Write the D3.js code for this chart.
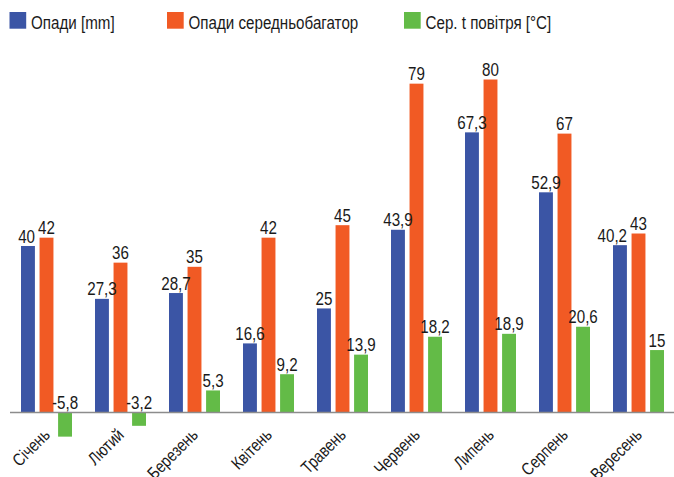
<!DOCTYPE html>
<html>
<head>
<meta charset="utf-8">
<script src="https://cdn.jsdelivr.net/npm/d3@7"></script>
<style>
  html, body { margin: 0; padding: 0; background: #fff; }
  svg { display: block; font-family: "Liberation Sans", Arial, sans-serif; }
</style>
</head>
<body>
<svg id="chart" width="674" height="477"></svg>
<script>
// Monthly precipitation and mean air temperature
const months = ["Січень", "Лютий", "Березень", "Квітень", "Травень", "Червень", "Липень", "Серпень", "Вересень"];
const seriesNames = ["Опади [mm]", "Опади середньобагатор", "Сер. t повітря [°C]"];
const precip = [40, 27.3, 28.7, 16.6, 25, 43.9, 67.3, 52.9, 40.2];
const precipNorm = [42, 36, 35, 42, 45, 79, 80, 67, 43];
const airTemp = [-5.8, -3.2, 5.3, 9.2, 13.9, 18.2, 18.9, 20.6, 15];
const colors = ["#3b55a5", "#f15a24", "#63bb47"];

const series = [precip, precipNorm, airTemp];
const rows = months.map((m, i) => ({
  month: m,
  values: series.map((s, k) => ({ key: seriesNames[k], k, v: s[i] }))
}));

const svg = d3.select("#chart");
const W = 674;
const FS = 18.5;      // value and legend text size
const FS_AXIS = 17.5; // month label size
const NARROW = 0.82;  // horizontal squeeze for a condensed look
const ink = "#1a1a1a";

const x0 = d3.scaleBand().domain(months).range([10, 676]).padding(0);
const x1 = d3.scaleBand().domain(seriesNames).range([11, 62]).paddingInner(0.25).paddingOuter(0);
const y = d3.scaleLinear().domain([0, 80]).range([412.5, 79.5]);

const fmt = v => String(v).replace(".", ",");

// Legend
const legendX = [9.5, 167, 404];
seriesNames.forEach((name, k) => {
  const g = svg.append("g").attr("transform", `translate(${legendX[k]},12)`);
  g.append("rect").attr("width", 16.7).attr("height", 16.7).attr("fill", colors[k]);
  g.append("text")
    .attr("transform", `translate(21.5,16.5) scale(${NARROW},1)`)
    .attr("font-size", FS).attr("fill", ink).text(name);
});

// Bars
const groups = svg.append("g").selectAll("g").data(rows).join("g")
  .attr("transform", d => `translate(${x0(d.month)},0)`);

groups.selectAll("rect").data(d => d.values).join("rect")
  .attr("x", d => x1(d.key))
  .attr("width", x1.bandwidth())
  .attr("y", d => Math.min(y(d.v), y(0)))
  .attr("height", d => Math.abs(y(d.v) - y(0)))
  .attr("fill", d => colors[d.k]);

// Value labels (negative values sit just above the axis)
groups.each(function (row) {
  const g = d3.select(this);
  const labels = row.values.map(d => ({
    d,
    cx: x1(d.key) + x1.bandwidth() / 2,
    cy: (d.v >= 0 ? y(d.v) : y(0)) - 3.5
  }));
  const texts = g.selectAll("text.val").data(labels).join("text")
    .attr("class", "val")
    .attr("text-anchor", "middle")
    .attr("font-size", FS)
    .attr("fill", ink)
    .text(l => fmt(l.d.v));
  // measure widths, then nudge a label left when it would collide with its right neighbour
  texts.each(function (l) { l.w = this.getComputedTextLength() * NARROW; });
  for (let i = labels.length - 2; i >= 0; i--) {
    const a = labels[i], b = labels[i + 1];
    if (Math.abs(a.cy - b.cy) < FS * 0.75) {
      const overlap = (a.cx + a.w / 2) - (b.cx - b.w / 2) + 3;
      if (overlap > 0) a.cx -= overlap;
    }
  }
  texts.attr("transform", l => `translate(${l.cx},${l.cy}) scale(${NARROW},1)`);
});

// Zero axis line
svg.append("line")
  .attr("x1", 10).attr("x2", W)
  .attr("y1", y(0)).attr("y2", y(0))
  .attr("stroke", "#8c8c8c").attr("stroke-width", 1.5);

// Month labels, rotated under each group
svg.append("g").selectAll("text").data(months).join("text")
  .attr("transform", d => `translate(${x0(d) + x0.bandwidth() / 2 + 4},${y(0) + 23.5}) rotate(-45) scale(${NARROW},1)`)
  .attr("text-anchor", "end")
  .attr("font-size", FS_AXIS)
  .attr("fill", ink)
  .text(d => d);
</script>
</body>
</html>
